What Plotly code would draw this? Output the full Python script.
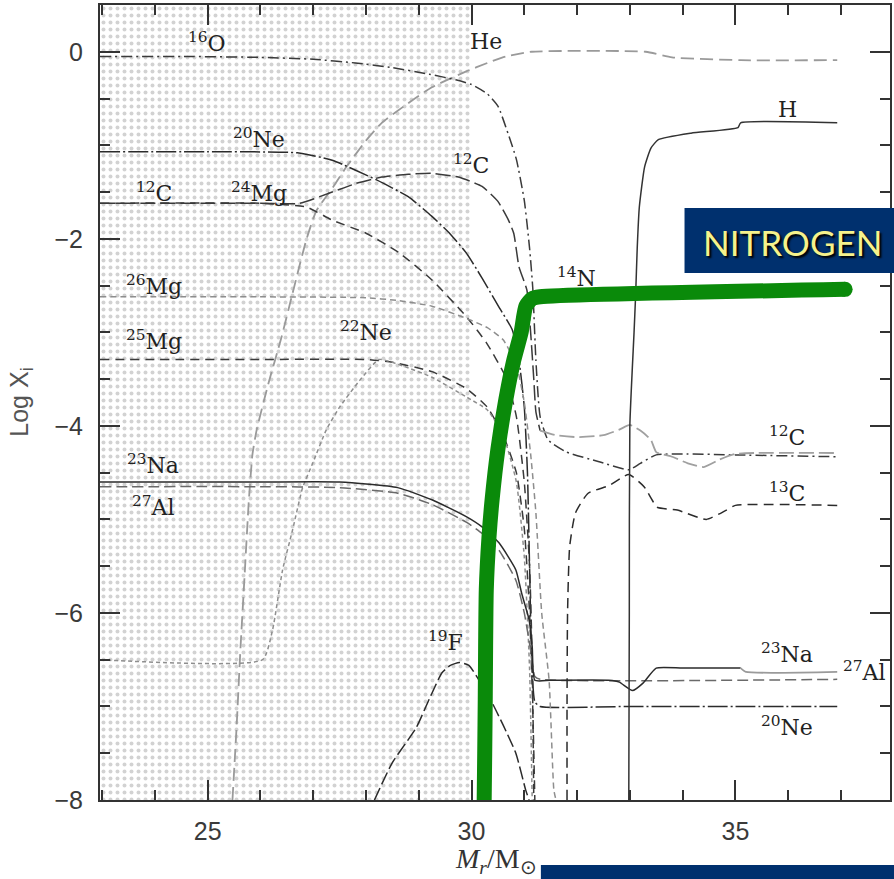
import plotly.graph_objects as go

# Axis extents: interior mass coordinate (solar masses) and log mass fraction
X_RANGE = [22.96, 37.93]
Y_RANGE = [-8.0, 0.5]
CONV_EDGE = 30.0  # outer edge of the stippled convective zone

# ---- abundance profiles -------------------------------------------------
o16_x = [22.96, 24.5, 26.0, 27.0, 27.8, 28.5, 29.2, 29.7, 30.0, 30.3, 30.5, 30.69, 30.85, 31.0, 31.1,
         31.16, 31.22, 31.3, 31.45, 31.8, 32.4, 32.98, 33.2, 33.5, 34.0, 35.0, 36.93]
o16_y = [-0.05, -0.05, -0.06, -0.08, -0.12, -0.17, -0.24, -0.30, -0.35, -0.45, -0.58, -0.87, -1.15, -1.59, -2.1,
         -2.52, -3.3, -3.9, -4.15, -4.28, -4.38, -4.47, -4.40, -4.31, -4.30, -4.31, -4.33]

he_x = [25.47, 25.55, 25.62, 25.7, 25.78, 25.85, 25.93, 26.15, 26.4, 26.61, 26.87, 27.06, 27.36, 27.63, 28.0,
        28.3, 28.8, 29.25, 29.9, 30.3, 30.65, 31.14, 33.3, 33.8, 35.1, 36.93]
he_y = [-8.0, -7.2, -6.4, -5.6, -4.8, -4.3, -4.04, -3.55, -3.05, -2.58, -2.01, -1.70, -1.46, -1.23, -0.95,
        -0.76, -0.55, -0.38, -0.21, -0.12, -0.05, 0.0, 0.0, -0.06, -0.09, -0.09]

ne20_x = [22.96, 25.0, 26.7, 27.36, 28.2, 28.8, 29.25, 29.6, 29.9, 30.2, 30.52, 30.77, 30.9, 31.0, 31.06,
          31.1, 31.14, 31.2, 31.3, 33.0, 35.0, 36.93]
ne20_y = [-1.07, -1.07, -1.08, -1.16, -1.37, -1.55, -1.76, -1.95, -2.15, -2.42, -2.73, -2.97, -3.3, -3.8, -4.5,
          -5.5, -6.5, -6.95, -7.0, -7.0, -7.0, -7.0]

c12_x = [22.96, 26.0, 26.74, 27.36, 27.8, 28.3, 28.8, 29.25, 29.75, 30.2, 30.5, 30.7, 30.8, 30.9, 31.05,
         31.12, 31.18, 31.22, 31.3, 31.6, 32.0, 32.5, 32.8, 33.0, 33.2, 33.4, 33.5, 33.8, 34.1, 34.4,
         34.7, 35.0, 36.93]
c12_y = [-1.62, -1.62, -1.62, -1.50, -1.41, -1.34, -1.31, -1.30, -1.34, -1.44, -1.6, -1.80, -1.94, -2.3, -2.55,
         -3.0, -3.5, -3.85, -4.05, -4.1, -4.12, -4.1, -4.04, -3.99, -4.05, -4.15, -4.28, -4.33, -4.40, -4.44,
         -4.36, -4.30, -4.29]
C12_SPLIT = 18  # inner (dark) part ends where the outer envelope plateau begins

mg24_x = [22.96, 26.0, 26.87, 27.36, 28.0, 28.63, 29.25, 29.9, 30.28, 30.65, 30.85, 31.0, 31.1, 31.15, 31.18]
mg24_y = [-1.62, -1.62, -1.66, -1.80, -1.94, -2.15, -2.44, -2.83, -3.11, -3.48, -3.9, -4.6, -5.5, -6.5, -8.0]

mg25_x = [22.96, 26.0, 28.0, 28.5, 29.25, 29.9, 30.3, 30.6, 30.85, 31.0, 31.1, 31.16, 31.2]
mg25_y = [-3.29, -3.29, -3.29, -3.32, -3.42, -3.6, -3.8, -4.1, -4.5, -5.1, -6.0, -7.0, -8.0]

mg26_x = [22.96, 26.0, 28.0, 28.6, 29.25, 29.9, 30.3, 30.6, 30.85, 31.0, 31.12, 31.22, 31.33, 31.47, 31.56, 31.6]
mg26_y = [-2.62, -2.62, -2.63, -2.66, -2.72, -2.85, -2.95, -3.08, -3.35, -3.75, -4.3, -4.93, -6.0, -6.72, -7.89, -8.0]

ne22_x = [22.96, 26.04, 26.23, 26.42, 26.61, 26.8, 26.99, 27.25, 27.5, 27.9, 28.25, 28.7, 29.25, 29.9, 30.3,
          30.6, 30.85, 31.0, 31.1, 31.15]
ne22_y = [-6.5, -6.5, -6.18, -5.54, -5.11, -4.66, -4.40, -4.04, -3.8, -3.5, -3.29, -3.36, -3.48, -3.69, -3.83,
          -4.1, -4.6, -5.4, -6.6, -8.0]

na23_x = [22.96, 26.0, 27.5, 28.6, 29.25, 29.9, 30.2, 30.52, 30.84, 30.95, 31.09, 31.15, 31.2, 31.5, 32.6,
          32.8, 33.05, 33.25, 33.5, 34.0, 35.1]
na23_y = [-4.6, -4.6, -4.6, -4.66, -4.79, -4.97, -5.08, -5.25, -5.54, -5.79, -6.07, -6.36, -6.72, -6.72, -6.72,
          -6.74, -6.83, -6.75, -6.59, -6.59, -6.59]
na23_tail_x = [35.1, 35.2, 36.93]
na23_tail_y = [-6.59, -6.63, -6.63]

al27_x = [22.96, 26.0, 27.5, 28.6, 29.25, 29.9, 30.2, 30.52, 30.84, 31.0, 31.12, 31.2, 31.3, 36.93]
al27_y = [-4.65, -4.65, -4.66, -4.72, -4.84, -5.03, -5.15, -5.33, -5.65, -6.0, -6.4, -6.68, -6.71, -6.71]

f19_x = [28.16, 28.5, 28.95, 29.2, 29.44, 29.6, 29.77, 29.95, 30.1, 30.39, 30.6, 30.84, 31.03, 31.09]
f19_y = [-8.0, -7.6, -7.23, -6.92, -6.64, -6.56, -6.53, -6.56, -6.68, -6.96, -7.2, -7.5, -7.9, -8.0]

h_x = [32.98, 32.99, 33.0, 33.08, 33.11, 33.14, 33.18, 33.28, 33.4, 33.54, 34.16, 35.05, 35.1, 36.93]
h_y = [-8.0, -6.0, -4.0, -3.0, -2.6, -2.1, -1.66, -1.23, -1.03, -0.94, -0.87, -0.81, -0.76, -0.76]

c13_x = [31.81, 31.81, 31.82, 31.86, 31.97, 32.21, 32.6, 32.98, 33.27, 33.52, 33.9, 34.45, 34.83, 35.0, 36.93]
c13_y = [-8.0, -7.0, -6.0, -5.29, -4.93, -4.72, -4.64, -4.52, -4.65, -4.87, -4.9, -5.0, -4.9, -4.85, -4.85]

# nitrogen profile, drawn as the thick highlight
n14_x = [30.24, 30.25, 30.26, 30.28, 30.33, 30.39, 30.5, 30.65, 30.8, 30.94, 31.03, 31.15, 31.3, 37.08]
n14_y = [-8.0, -7.5, -6.93, -5.75, -5.2, -4.79, -4.25, -3.72, -3.3, -3.0, -2.72, -2.64, -2.62, -2.54]

# ---- curve labels ------------------------------------------------------
label_text = ["<sup>16</sup>O", "He", "H", "<sup>20</sup>Ne", "<sup>12</sup>C", "<sup>24</sup>Mg",
              "<sup>12</sup>C", "<sup>26</sup>Mg", "<sup>25</sup>Mg", "<sup>22</sup>Ne", "<sup>14</sup>N",
              "<sup>23</sup>Na", "<sup>27</sup>Al", "<sup>19</sup>F", "<sup>12</sup>C", "<sup>13</sup>C",
              "<sup>23</sup>Na", "<sup>27</sup>Al", "<sup>20</sup>Ne"]
label_x = [24.98, 30.28, 35.98, 25.98, 23.98, 25.98, 29.99, 23.98, 23.98, 28.0, 31.99,
           23.96, 23.98, 29.5, 35.98, 35.98, 35.98, 37.44, 35.98]
label_y = [0.10, 0.11, -0.62, -0.92, -1.50, -1.50, -1.20, -2.49, -3.08, -2.99, -2.41,
           -4.41, -4.86, -6.30, -4.11, -4.71, -6.43, -6.62, -7.21]

DARK = "#2b2b2b"
GREY = "#8e8e8e"

fig = go.Figure()

# stippled convective region
fig.add_trace(go.Scatter(
    x=[X_RANGE[0], CONV_EDGE, CONV_EDGE, X_RANGE[0], X_RANGE[0]],
    y=[Y_RANGE[0], Y_RANGE[0], Y_RANGE[1], Y_RANGE[1], Y_RANGE[0]],
    mode="none", fill="toself", fillcolor="white",
    fillpattern=dict(shape=".", size=7, solidity=0.25, fgcolor="#a6a6a6", bgcolor="white"),
    hoverinfo="skip", showlegend=False))


def add_curve(x, y, color, dash, width=1.5):
    fig.add_trace(go.Scatter(
        x=x, y=y, mode="lines",
        line=dict(color=color, dash=dash, width=width, shape="spline", smoothing=0.5),
        hoverinfo="skip", showlegend=False))


add_curve(he_x, he_y, "#9a9a9a", "13px,6px", 1.8)
add_curve(o16_x, o16_y, "#3a3a3a", "11px,4px,2px,4px")
add_curve(ne20_x, ne20_y, DARK, "20px,3px,2px,3px")
add_curve(c12_x[:C12_SPLIT + 1], c12_y[:C12_SPLIT + 1], "#3a3a3a", "15px,5px")
add_curve(c12_x[C12_SPLIT:], c12_y[C12_SPLIT:], "#a0a0a0", "15px,5px", 1.8)
add_curve(mg24_x, mg24_y, "#3a3a3a", "9px,6px")
add_curve(mg25_x, mg25_y, "#3a3a3a", "9px,6px")
add_curve(mg26_x, mg26_y, GREY, "6px,4px")
add_curve(ne22_x, ne22_y, GREY, "4px,3px")
add_curve(al27_x, al27_y, "#6a6a6a", "11px,5px")
add_curve(na23_x, na23_y, DARK, "solid")
add_curve(na23_tail_x, na23_tail_y, "#9a9a9a", "solid", 1.8)
add_curve(f19_x, f19_y, DARK, "13px,4px")
add_curve(c13_x, c13_y, DARK, "10px,6px")
add_curve(h_x, h_y, "#333333", "solid")

# thick nitrogen highlight
fig.add_trace(go.Scatter(
    x=n14_x, y=n14_y, mode="lines",
    line=dict(color="#0a8a0a", width=15, shape="spline", smoothing=0.6),
    hoverinfo="skip", showlegend=False))
fig.add_trace(go.Scatter(
    x=n14_x[-1:], y=n14_y[-1:], mode="markers",
    marker=dict(color="#0a8a0a", size=15, line=dict(width=0)),
    hoverinfo="skip", showlegend=False))

annotations = []
for t, lx, ly in zip(label_text, label_x, label_y):
    annotations.append(dict(
        x=lx, y=ly, xref="x", yref="y", text=t, showarrow=False,
        font=dict(family="DejaVu Serif", size=22, color="#222222")))

# axis titles
annotations.append(dict(
    x=(20 - 100) / 792.0, y=0.5, xref="paper", yref="paper", text="Log X<sub>i</sub>",
    textangle=-90, showarrow=False, xanchor="center", yanchor="middle",
    font=dict(family="Liberation Sans", size=25, color="#555555")))
annotations.append(dict(
    x=(497 - 100) / 792.0, y=(800 - 860) / 795.0, xref="paper", yref="paper",
    text="<i>M<sub>r</sub></i>/M<sub>⊙</sub>", showarrow=False,
    xanchor="center", yanchor="middle",
    font=dict(family="Liberation Serif", size=28, color="#333333")))

# NITROGEN banner
annotations.append(dict(
    x=(794 - 100) / 792.0, y=(800 - 242) / 795.0, xref="paper", yref="paper",
    text="NITROGEN", showarrow=False, xanchor="center", yanchor="middle",
    font=dict(family="Lato", size=35, color="#f6f28c", shadow="2px 2px 2px #000000")))

shapes = [
    dict(type="rect", xref="paper", yref="paper",
         x0=(686 - 100) / 792.0, x1=1.01, y0=(800 - 273) / 795.0, y1=(800 - 208) / 795.0,
         fillcolor="#00306e", line=dict(width=0), layer="above"),
    dict(type="rect", xref="paper", yref="paper",
         x0=(542 - 100) / 792.0, x1=1.01, y0=(800 - 880) / 795.0, y1=(800 - 865) / 795.0,
         fillcolor="#00306e", line=dict(width=0), layer="above"),
]

axis_common = dict(
    showgrid=False, zeroline=False, showline=True, linecolor="#333333", linewidth=2,
    mirror="ticks", ticks="inside", ticklen=20, tickwidth=2, tickcolor="#333333",
    tickfont=dict(family="Liberation Sans", size=25, color="#3a3a3a"),
)

fig.update_layout(
    width=894, height=879,
    margin=dict(l=100, r=2, t=5, b=79),
    paper_bgcolor="white", plot_bgcolor="white",
    showlegend=False,
    xaxis=dict(range=X_RANGE, tick0=25, dtick=5, ticklabelstandoff=8,
               minor=dict(ticks="inside", ticklen=10, dtick=1, tickwidth=2, tickcolor="#333333"),
               **axis_common),
    yaxis=dict(range=Y_RANGE, tick0=0, dtick=2, ticklabelstandoff=10,
               minor=dict(ticks="inside", ticklen=10, dtick=0.5, tickwidth=2, tickcolor="#333333"),
               **axis_common),
    annotations=annotations,
    shapes=shapes,
)

fig.write_html("out.html")
